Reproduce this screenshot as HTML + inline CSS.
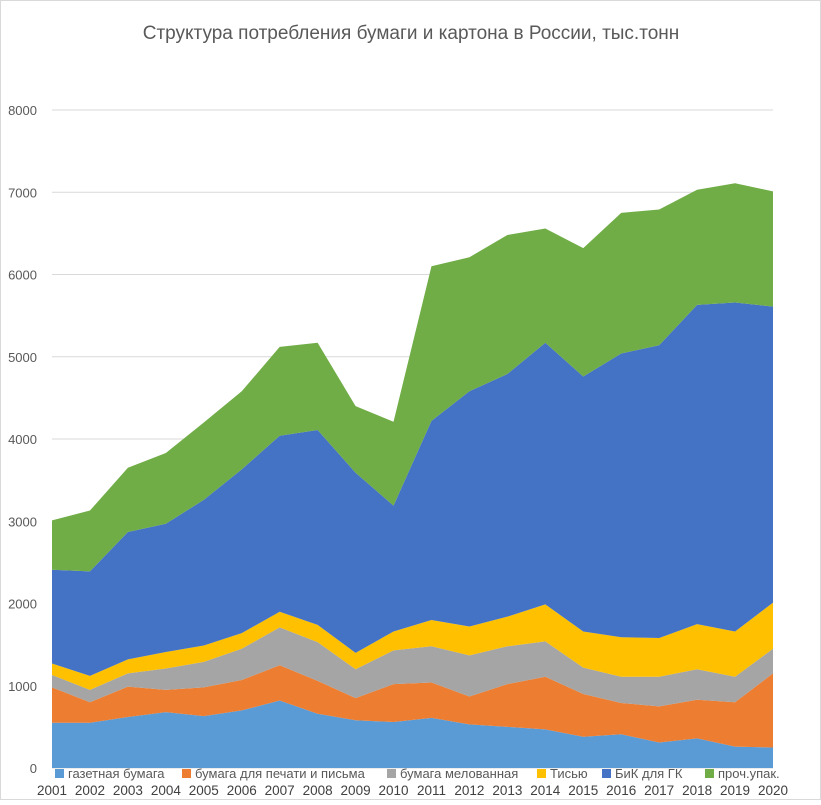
<!DOCTYPE html>
<html><head><meta charset="utf-8"><style>
body{margin:0;background:#fff;font-family:"Liberation Sans",sans-serif}
svg text{font-family:"Liberation Sans",sans-serif}
</style></head><body>
<svg id="c" width="821" height="800">
<rect x="0.5" y="0.5" width="820" height="799" fill="#fff" stroke="#d9d9d9"/>
<text x="411" y="39" text-anchor="middle" font-size="19" fill="#595959">Структура  потребления  бумаги и картона в России, тыс.тонн</text>
<g id="grid"></g><g id="areas"></g><g id="axes"></g><g id="legend"></g>
</svg>
<script>
const years=["2001","2002","2003","2004","2005","2006","2007","2008","2009","2010","2011","2012","2013","2014","2015","2016","2017","2018","2019","2020"];
const newsprint=[550,550,620,680,630,700,820,660,580,560,610,530,500,470,380,410,310,360,260,250];
const printing=[430,250,370,270,350,370,430,400,270,460,430,340,520,640,520,380,440,470,540,900];
const coated=[150,150,160,260,310,380,460,470,350,410,440,500,460,430,320,320,360,370,310,300];
const tissue=[140,170,170,200,200,190,190,210,200,230,320,350,360,450,440,480,470,550,550,560];
const boardGK=[1140,1270,1550,1560,1770,1990,2140,2370,2190,1530,2420,2860,2950,3180,3100,3450,3560,3880,4000,3600];
const otherPack=[600,740,780,860,940,950,1080,1060,810,1020,1880,1630,1690,1390,1560,1710,1650,1400,1450,1400];
const yTicks=[0,1000,2000,3000,4000,5000,6000,7000,8000];
const seriesNames=["газетная бумага","бумага для печати и письма","бумага мелованная","Тисью","БиК для ГК","проч.упак."];
const NS="http://www.w3.org/2000/svg";
const x0=52,x1=773,y0=768,yTop=110;
const xs=i=>x0+(x1-x0)*i/(years.length-1);
const ys=v=>y0-(y0-yTop)*v/8000;
const series=[newsprint,printing,coated,tissue,boardGK,otherPack];
const colors=["#5b9bd5","#ed7d31","#a5a5a5","#ffc000","#4472c4","#70ad47"];
const keys=["newsprint","printing","coated","tissue","board-gk","other-pack"];
const grid=document.getElementById('grid');
yTicks.forEach(t=>{
 const l=document.createElementNS(NS,'line');
 l.setAttribute('x1',x0);l.setAttribute('x2',x1);l.setAttribute('y1',ys(t));l.setAttribute('y2',ys(t));
 l.setAttribute('stroke','#d9d9d9');
 
 
 grid.appendChild(l);
 const tx=document.createElementNS(NS,'text');
 tx.setAttribute('x',37);tx.setAttribute('y',ys(t)+5);tx.setAttribute('text-anchor','end');
 tx.setAttribute('font-size','13');tx.setAttribute('fill','#595959');
 tx.textContent=t;
 
 
 grid.appendChild(tx);
});
const areas=document.getElementById('areas');
let base=years.map(()=>0);
series.forEach((s,k)=>{
 const top=base.map((b,i)=>b+s[i]);
 let d='M'+years.map((_,i)=>xs(i)+','+ys(top[i])).join(' L');
 for(let i=years.length-1;i>=0;i--) d+=' L'+xs(i)+','+ys(base[i]);
 d+=' Z';
 const p=document.createElementNS(NS,'path');
 p.setAttribute('d',d);p.setAttribute('fill',colors[k]);
 
 
 areas.appendChild(p);
 base=top;
});
const axes=document.getElementById('axes');
years.forEach((y,i)=>{
 const tx=document.createElementNS(NS,'text');
 tx.setAttribute('x',xs(i));tx.setAttribute('y',795);tx.setAttribute('text-anchor','middle');
 tx.setAttribute('font-size','13.5');tx.setAttribute('fill','#404040');
 tx.textContent=y;
 
 
 axes.appendChild(tx);
});
const lg=document.getElementById('legend');
const lx=[55,182,387,537,602,705];
seriesNames.forEach((n,k)=>{
 const g=document.createElementNS(NS,'g');
 
 
 const r=document.createElementNS(NS,'rect');
 r.setAttribute('x',lx[k]);r.setAttribute('y',769);r.setAttribute('width',9);r.setAttribute('height',9);r.setAttribute('fill',colors[k]);
 
 
 g.appendChild(r);
 const t=document.createElementNS(NS,'text');
 t.setAttribute('x',lx[k]+13);t.setAttribute('y',778);t.setAttribute('font-size','13');t.setAttribute('fill','#595959');
 t.textContent=n;
 
 
 g.appendChild(t);
 lg.appendChild(g);
});
</script>
</body></html>
